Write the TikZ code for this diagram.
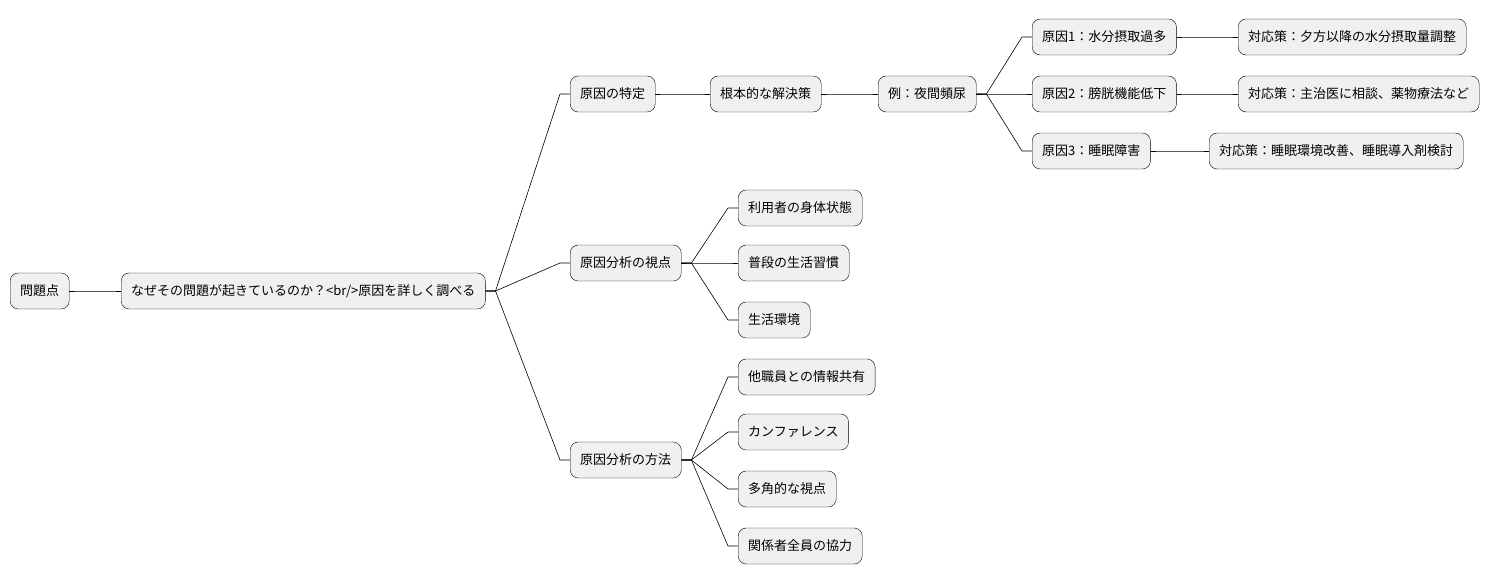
\documentclass[tikz,border=0pt]{standalone}
\usepackage{fontspec}
\setmainfont{Noto Sans CJK JP}
\usetikzlibrary{calc}
\begin{document}
\begin{tikzpicture}[x=1pt,y=-1pt,
  mm/.style={draw=black,fill=black!6,rounded corners=8pt,minimum height=36pt,inner xsep=10pt,anchor=west,font=\fontsize{13}{15}\selectfont},
  lk/.style={line width=0.6pt}]
\useasboundingbox (0,0) rectangle (1506,583);
\node[mm] (r) at (10,291) {問題点};
\node[mm] (w) at (121,291) {なぜその問題が起きているのか？<br/>原因を詳しく調べる};
\node[mm] (a) at (570,94) {原因の特定};
\node[mm] (a1) at (710,94) {根本的な解決策};
\node[mm] (a2) at (878,94) {例：夜間頻尿};
\node[mm] (c1) at (1032,37) {原因1：水分摂取過多};
\node[mm] (d1) at (1238,37) {対応策：夕方以降の水分摂取量調整};
\node[mm] (c2) at (1032,94) {原因2：膀胱機能低下};
\node[mm] (d2) at (1238,94) {対応策：主治医に相談、薬物療法など};
\node[mm] (c3) at (1032,151) {原因3：睡眠障害};
\node[mm] (d3) at (1209,151) {対応策：睡眠環境改善、睡眠導入剤検討};
\node[mm] (b) at (570,263) {原因分析の視点};
\node[mm] (b1) at (738,208) {利用者の身体状態};
\node[mm] (b2) at (738,263) {普段の生活習慣};
\node[mm] (b3) at (738,320) {生活環境};
\node[mm] (m) at (570,460) {原因分析の方法};
\node[mm] (m1) at (738,377) {他職員との情報共有};
\node[mm] (m2) at (738,432) {カンファレンス};
\node[mm] (m3) at (738,489) {多角的な視点};
\node[mm] (m4) at (738,546) {関係者全員の協力};
\foreach \p/\c in {r/w,w/a,w/b,w/m,a/a1,a1/a2,a2/c1,a2/c2,a2/c3,c1/d1,c2/d2,c3/d3,b/b1,b/b2,b/b3,m/m1,m/m2,m/m3,m/m4}
  \draw[lk] (\p.east) -- ++(10,0) .. controls ($(\p.east)!0.5!(\c.west)+(0,0)$ |- \p.east) and ($(\p.east)!0.5!(\c.west)$ |- \c.west) .. ($(\c.west)+(-10,0)$) -- (\c.west);
\end{tikzpicture}
\end{document}
